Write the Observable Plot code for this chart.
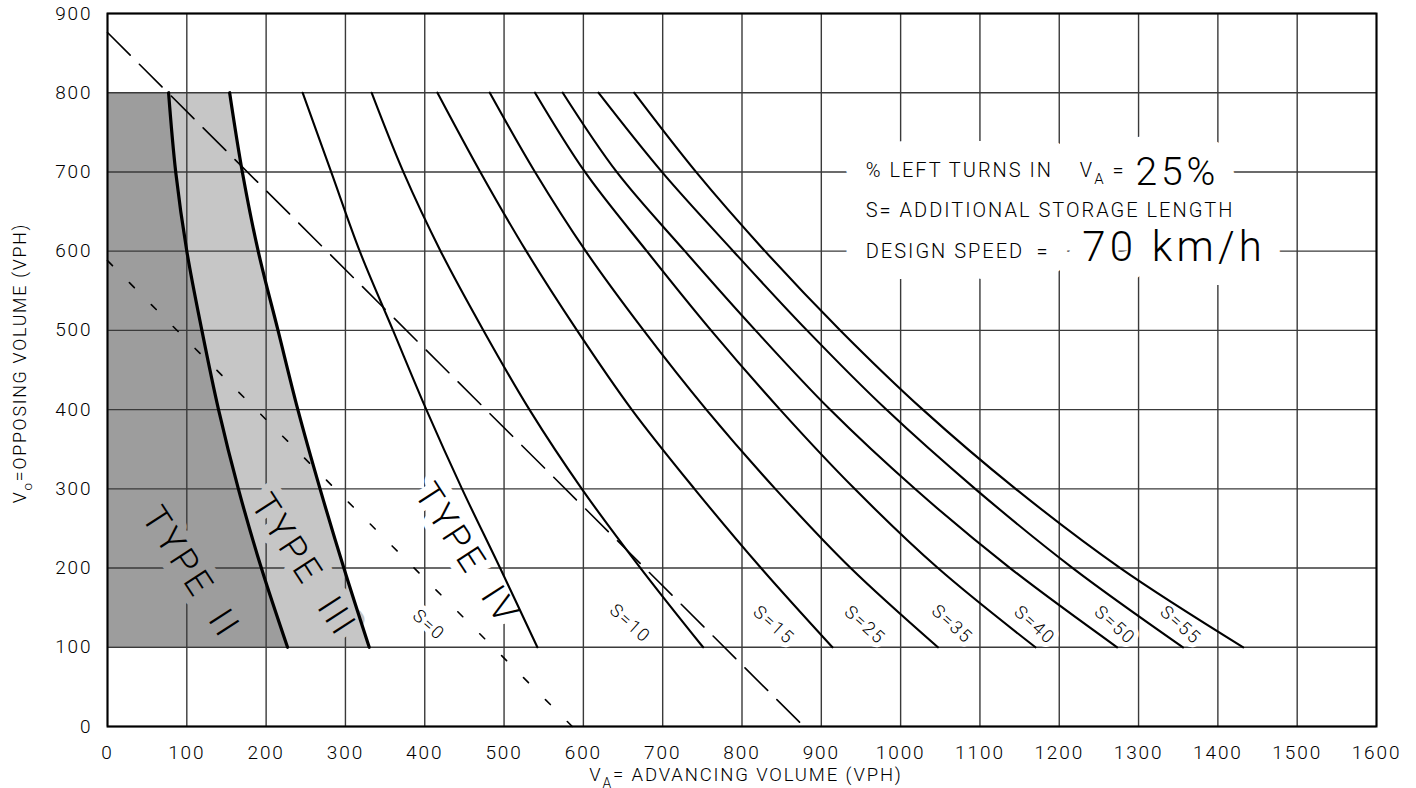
<!DOCTYPE html>
<html>
<head>
<meta charset="utf-8">
<script src="https://cdn.jsdelivr.net/npm/d3@7"></script>
<script src="https://cdn.jsdelivr.net/npm/@observablehq/plot@0.6"></script>
<style>
  html, body { margin: 0; padding: 0; background: #fff; }
  #chart svg text { font-weight: 300; letter-spacing: 0.1em; }
</style>
</head>
<body>
<div id="chart"></div>
<script>
// ---------- data ----------
const xTicks = [0, 100, 200, 300, 400, 500, 600, 700, 800, 900, 1000, 1100, 1200, 1300, 1400, 1500, 1600];
const yTicks = [0, 100, 200, 300, 400, 500, 600, 700, 800, 900];

// opposing volume levels at which curves were read
const yLevels = [800, 700, 600, 500, 400, 300, 200, 100];

// boundaries of the shaded warrant zones (advancing volume at each level)
const typeIIBoundary  = [77, 86, 100, 119, 140, 165, 194, 227];
const typeIIIBoundary = [154, 170, 190, 215, 240, 268, 298, 330];

// storage-length curves
const storageLabels = ["S=0", "S=10", "S=15", "S=25", "S=35", "S=40", "S=50", "S=55"];
const s0  = [246, 282, 318, 360, 402, 447, 495, 542];
const s10 = [333, 373, 420, 474, 532, 598, 672, 751];
const s15 = [416, 470, 528, 592, 661, 740, 824, 914];
const s25 = [482, 539, 603, 676, 755, 842, 937, 1047];
const s35 = [539, 602, 680, 761, 848, 942, 1047, 1170];
const s40 = [574, 642, 728, 817, 911, 1018, 1138, 1273];
const s50 = [619, 699, 789, 882, 982, 1094, 1217, 1356];
const s55 = [664, 742, 829, 924, 1028, 1145, 1277, 1432];

// straight reference lines (end points)
const dashedLineX = [0, 878];
const dashedLineY = [876, 0];
const dottedLineX = [0, 586];
const dottedLineY = [588, 0];

// texts
const typeLabels = ["TYPE\u2002II", "TYPE\u2002III", "TYPE\u2002IV"];
const infoLine1a = "% LEFT TURNS IN";
const infoLine1b = "V_{A} =";
const infoValue1 = "25%";
const infoLine2 = "S= ADDITIONAL STORAGE LENGTH";
const infoLine3 = "DESIGN SPEED\u2002=";
const infoValue3 = "70 km/h";
const xAxisLabel = "V_{A}= ADVANCING VOLUME (VPH)";
const yAxisLabel = "V_{o}=OPPOSING VOLUME (VPH)";

// ---------- annotation placement (data units) ----------
const typeLabelPos = [[105, 194], [247, 203], [453, 217]];
const storageLabelPos = [[405, 128], [659, 130], [840, 128], [955, 128], [1065, 129], [1169, 128], [1270, 128], [1353, 128]];
const infoPos = {line1a: [956, 694], line1b: [1226, 694], value1: [1296, 684], line2: [956, 642.5], line3: [956, 591], value3: [1229, 588]};

// ---------- tables built from the arrays ----------
const bandRows = yLevels.map((y, i) => ({y, t2: typeIIBoundary[i], t3: typeIIIBoundary[i]}));
const typeRows = [["II", typeIIBoundary], ["III", typeIIIBoundary]]
  .flatMap(([k, xs]) => yLevels.map((y, i) => ({k, x: xs[i], y})));
const storageSeries = [s0, s10, s15, s25, s35, s40, s50, s55];
const storageRows = storageSeries.flatMap((xs, j) => yLevels.map((y, i) => ({k: storageLabels[j], x: xs[i], y})));
const dashedRows = dashedLineX.map((x, i) => ({x, y: dashedLineY[i]}));
const dottedRows = dottedLineX.map((x, i) => ({x, y: dottedLineY[i]}));
const typeLabelRows = typeLabels.map((t, i) => ({t, x: typeLabelPos[i][0], y: typeLabelPos[i][1]}));
const storageLabelRows = storageLabels.map((t, i) => ({t, x: storageLabelPos[i][0], y: storageLabelPos[i][1]}));
const infoRows = [
  {t: infoLine1a, x: infoPos.line1a[0], y: infoPos.line1a[1], size: 20},
  {t: infoLine1b, x: infoPos.line1b[0], y: infoPos.line1b[1], size: 20},
  {t: infoValue1, x: infoPos.value1[0], y: infoPos.value1[1], size: 39},
  {t: infoLine2, x: infoPos.line2[0], y: infoPos.line2[1], size: 20},
  {t: infoLine3, x: infoPos.line3[0], y: infoPos.line3[1], size: 20},
  {t: infoValue3, x: infoPos.value3[0], y: infoPos.value3[1], size: 42}
];

const DARK = "#9d9d9d", LIGHT = "#c6c6c6", GRID = "#3a3a3a";
const curve = "catmull-rom";

function halo(data, opts, color, width) {
  return Plot.text(data, {...opts, fill: color, stroke: color, strokeWidth: width, strokeLinejoin: "round"});
}
function ink(data, opts) {
  return Plot.text(data, {...opts, fill: "black"});
}

const typeOpt = i => ({x: "x", y: "y", text: "t", rotate: 57, fontSize: 36, textAnchor: "middle", lineAnchor: "middle", filter: (d, j) => j === i});
const sOpt = {x: "x", y: "y", text: "t", rotate: 42, fontSize: 18, textAnchor: "middle", lineAnchor: "middle"};
const infoOpt = {x: "x", y: "y", text: "t", fontSize: "size", textAnchor: "start", lineAnchor: "bottom"};

const plot = Plot.plot({
  width: 1416,
  height: 788,
  marginLeft: 107,
  marginRight: 40,
  marginTop: 13,
  marginBottom: 62,
  x: {domain: [0, 1600], axis: null},
  y: {domain: [0, 900], axis: null},
  style: {fontFamily: "Roboto, 'DejaVu Sans', sans-serif", fontSize: "19px", background: "#fff", color: "#000", overflow: "visible"},
  marks: [
    Plot.areaX(bandRows, {y: "y", x1: () => 0, x2: "t2", fill: DARK, curve}),
    Plot.areaX(bandRows, {y: "y", x1: "t2", x2: "t3", fill: LIGHT, curve}),
    Plot.ruleX(xTicks, {x: d => d, stroke: GRID, strokeWidth: 1.4}),
    Plot.ruleY(yTicks, {y: d => d, stroke: GRID, strokeWidth: 1.4}),
    // halos (mask the grid like the drafting text masks)
    halo(typeLabelRows, typeOpt(0), DARK, 18),
    halo(typeLabelRows, typeOpt(1), LIGHT, 18),
    halo(typeLabelRows, typeOpt(2), "#fff", 18),
    halo(storageLabelRows, sOpt, "#fff", 10),
    halo(infoRows, infoOpt, "#fff", 42),
    // label ink
    ink(typeLabelRows, typeOpt(0)),
    ink(typeLabelRows, typeOpt(1)),
    ink(typeLabelRows, typeOpt(2)),
    ink(storageLabelRows, sOpt),
    ink(infoRows, infoOpt),
    // reference lines
    Plot.line(dashedRows, {x: "x", y: "y", stroke: "black", strokeWidth: 1.6, strokeDasharray: "32,13"}),
    Plot.line(dottedRows, {x: "x", y: "y", stroke: "black", strokeWidth: 1.6, strokeDasharray: "7,24"}),
    // curves
    Plot.line(storageRows, {x: "x", y: "y", z: "k", stroke: "black", strokeWidth: 2.1, curve}),
    Plot.line(typeRows, {x: "x", y: "y", z: "k", stroke: "black", strokeWidth: 3.2, curve}),
    Plot.frame({stroke: "black", strokeWidth: 2}),
    // tick labels
    Plot.text(xTicks, {x: d => d, text: d => String(d), frameAnchor: "bottom", dy: 32, lineAnchor: "bottom", textAnchor: "middle", fontSize: 19}),
    Plot.text(yTicks, {y: d => d, text: d => String(d), frameAnchor: "left", dx: -15, textAnchor: "end", lineAnchor: "middle", fontSize: 19}),
    // axis titles
    Plot.text([xAxisLabel], {text: d => d, frameAnchor: "bottom", dy: 54, dx: 4, lineAnchor: "bottom", textAnchor: "middle", fontSize: 18.5}),
    Plot.text([yAxisLabel], {text: d => d, frameAnchor: "left", dx: -82, dy: -7, rotate: -90, lineAnchor: "bottom", textAnchor: "middle", fontSize: 17.75})
  ]
});

document.getElementById("chart").append(plot);

// turn "_{x}" into real subscripts
function applySubscripts(root) {
  const NS = "http://www.w3.org/2000/svg";
  root.querySelectorAll("text").forEach(t => {
    if (t.children.length) return;
    const s = t.textContent;
    if (!s.includes("_{")) return;
    const fs = parseFloat(getComputedStyle(t).fontSize) || 16;
    t.textContent = "";
    const parts = s.split(/(_\{[^}]*\})/);
    let shifted = false;
    for (const p of parts) {
      if (!p) continue;
      const ts = document.createElementNS(NS, "tspan");
      if (p.startsWith("_{")) {
        ts.textContent = p.slice(2, -1);
        ts.setAttribute("font-size", (fs * 0.75).toFixed(1));
        ts.setAttribute("dy", (fs * 0.38).toFixed(1));
        shifted = true;
      } else {
        ts.textContent = p;
        if (shifted) { ts.setAttribute("dy", (-fs * 0.38).toFixed(1)); shifted = false; }
      }
      t.appendChild(ts);
    }
  });
}
applySubscripts(plot);
</script>
</body>
</html>
